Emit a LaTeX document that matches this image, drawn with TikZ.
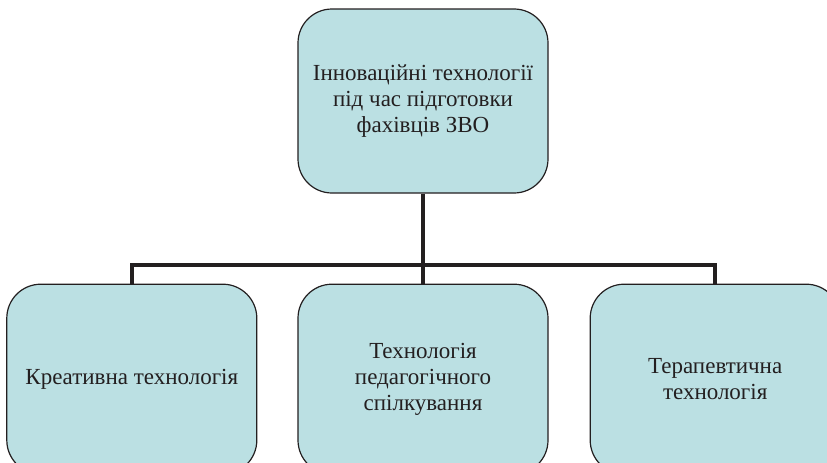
\documentclass[tikz,border=0pt]{standalone}
\usepackage{fontspec}
\setmainfont{Liberation Serif}
\usetikzlibrary{positioning}

\definecolor{boxfill}{RGB}{187,224,227}
\definecolor{boxline}{RGB}{35,31,32}

\begin{document}
\begin{tikzpicture}[x=1pt,y=-1pt,node distance=40pt,
        tech/.style={draw=boxline,line width=1.2pt,fill=boxfill,rounded corners=34pt,
          minimum width=250pt,minimum height=190pt,align=center,font=\fontsize{23}{26}\selectfont,
          text=boxline},
        conn/.style={draw=boxline,line width=4.5pt}]
        \useasboundingbox (0,0) rectangle (827,463);
        \clip (0,0) rectangle (827,463);

        \node[tech, minimum height=184pt] (top) at (423,101) {Інноваційні технології\\під час підготовки\\фахівців ЗВО};
        \node[tech] (mid) [below=90pt of top] {Технологія\\педагогічного\\спілкування};
        \node[tech] (left) [left=40pt of mid] {Креативна технологія};
        \node[tech] (right) [right=41pt of mid] {Терапевтична\\технологія};

        \coordinate (bus) at (top.south |- 0,265);

        \draw[conn] (top) -- (bus);
        \draw[conn] (bus) -| (left.north);
        \draw[conn] (bus) -| (right.north);
        \draw[conn] (bus) -- (mid);
\end{tikzpicture}
\end{document}
